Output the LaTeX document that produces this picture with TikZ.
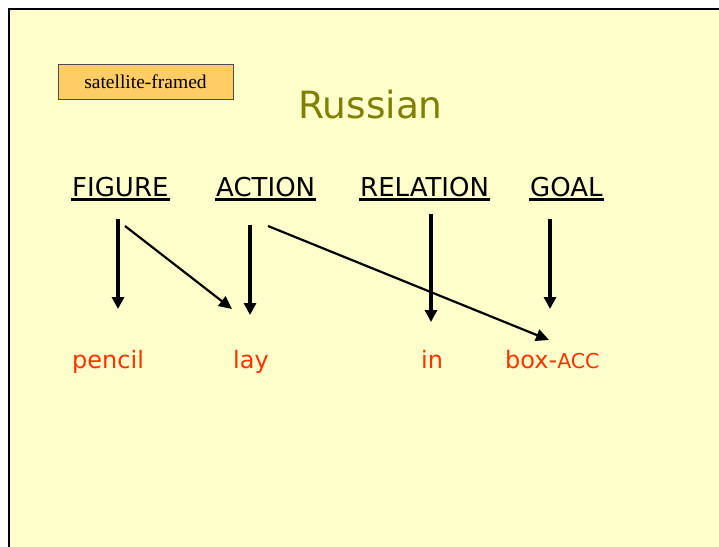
\documentclass[tikz,border=0pt]{standalone}
\usepackage{fontspec}
\setmainfont{DejaVu Sans}
\newfontfamily\boxfont{Liberation Serif}
\usetikzlibrary{arrows.meta,calc}
\definecolor{slidebg}{RGB}{255,255,204}
\definecolor{tagfill}{RGB}{255,204,102}
\definecolor{olive}{RGB}{128,128,0}
\definecolor{wordred}{RGB}{255,51,0}

\begin{document}
\begin{tikzpicture}[x=1pt,y=-1pt,
  role/.style={anchor=base west,inner sep=0pt,font=\fontsize{26}{30}\selectfont},
  word/.style={anchor=base west,inner sep=0pt,text=wordred,font=\fontsize{24}{28}\selectfont},
  uline/.style={line width=2.2pt},
  vert/.style={line width=3.2pt,-{Triangle[length=12pt,width=12pt]}},
  diag/.style={line width=2.2pt,-{Triangle[length=13pt,width=12pt]}}]
\useasboundingbox (0,0) rectangle (719,546);
\fill[white] (0,0) rectangle (719,546);
\fill[slidebg] (9,9) rectangle (720,547);
\draw[line width=2pt] (9,547) -- (9,9) -- (720,9);
\node[draw=black!70,fill=tagfill,minimum width=175pt,minimum height=35pt,inner sep=0pt,
  font=\boxfont\fontsize{19.5}{22}\selectfont] (tag) at (145.5,81.5) {satellite-framed};
\node[anchor=base,inner sep=0pt,text=olive,font=\fontsize{37.5}{42}\selectfont] (title) at (370.5,118) {Russian};
\node[role] (fig) at (72,196) {FIGURE};
\node[role] (act) at (216,196) {ACTION};
\node[role] (rel) at (360,196) {RELATION};
\node[role] (goal) at (530,196) {GOAL};
\foreach \n in {fig,act,rel,goal}
  \draw[uline] ($(\n.base west)+(-1,3.5)$) -- ($(\n.base east)+(1,3.5)$);
\node[word] (pencil) at (72,368) {pencil};
\node[word] (lay) at (233,368) {lay};
\node[word] (in) at (421,368) {in};
\node[word] (box) at (505,368) {box-{\fontsize{20.5}{24}\selectfont ACC}};
\draw[vert] ($(fig.base west)+(46,23)$) -- ($(pencil.base west)+(46,-59)$);
\draw[diag] ($(fig.base west)+(53,30)$) -- ($(lay.base west)+(-1,-59)$);
\draw[vert] ($(act.base west)+(34,29)$) -- ($(lay.base west)+(17,-53)$);
\draw[diag] ($(act.base west)+(52,30)$) -- ($(box.base west)+(44,-28)$);
\draw[vert] ($(rel.base west)+(71,18)$) -- ($(in.base west)+(10,-46)$);
\draw[vert] ($(goal.base west)+(20,23)$) -- ($(box.base west)+(45,-59)$);
\end{tikzpicture}
\end{document}
